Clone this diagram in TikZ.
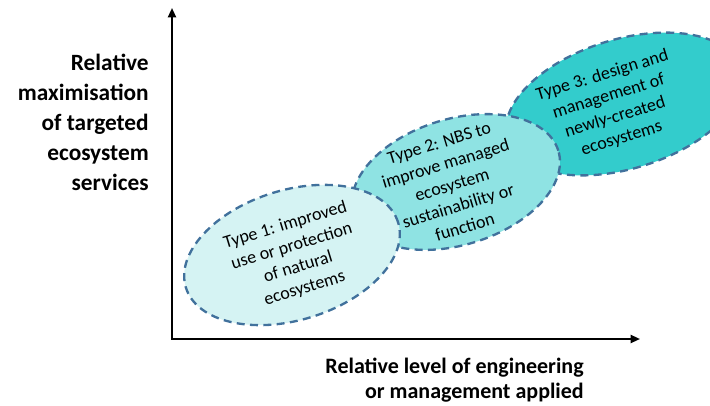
\documentclass[tikz,border=0pt]{standalone}
\usepackage{fontspec}
\setmainfont{Carlito}
\usetikzlibrary{shapes.geometric, arrows.meta}

\definecolor{typeone}{HTML}{D5F3F3}
\definecolor{typetwo}{HTML}{8FE3E3}
\definecolor{typethree}{HTML}{33CCCC}
\definecolor{dashblue}{HTML}{41719C}

\tikzset{
  nbsell/.style={ellipse, draw=dashblue, line width=1.75pt, dash pattern=on 6pt off 4pt, rotate=17},
  nbstext/.style={rotate=17, align=center, inner sep=0pt, font=\fontsize{13.5}{16.5}\selectfont},
  axislabel/.style={align=right, inner sep=0pt, font=\fontsize{17.5}{22.5}\selectfont\bfseries},
  axisline/.style={line width=1.5pt, line join=miter, {Triangle[width=6pt,length=7pt]}-{Triangle[width=6pt,length=7pt]}}
}

\begin{document}
\begin{tikzpicture}[x=0.75pt,y=0.75pt,yscale=-1,xscale=1]
\useasboundingbox (0,0) rectangle (710,406);

%Axes
\coordinate (origin) at (172,339);
\coordinate (ytip) at (172,8);
\coordinate (xtip) at (640,339);
\draw [axisline] (ytip) -- (origin) -- (xtip);

%Type 3 ellipse
\node (e3) [nbsell, fill=typethree, minimum width=183pt, minimum height=97pt] at (624,104) {};
\node (t3) [nbstext] at (612,107) {Type 3: design and\\management of\\newly-created\\ecosystems};
%Type 2 ellipse
\node (e2) [nbsell, fill=typetwo, minimum width=160.5pt, minimum height=94.5pt] at (456,182) {};
\node (t2) [nbstext] at (452,185) {Type 2: NBS to\\improve managed\\ecosystem\\sustainability or\\function};
%Type 1 ellipse
\node (e1) [nbsell, fill=typeone, minimum width=166.5pt, minimum height=97.5pt] at (292,255) {};
\node (t1) [nbstext] at (295,257) {Type 1: improved\\use or protection\\of natural\\ecosystems};

% Axis labels
\node (ylabel) [axislabel, anchor=east] at (149,122) {Relative\\maximisation\\of targeted\\ecosystem\\services};
\node (xlabel) [axislabel, anchor=east, font=\fontsize{16.5}{19}\selectfont\bfseries] at (584,380) {Relative level of engineering\\or management applied};
\end{tikzpicture}
\end{document}
